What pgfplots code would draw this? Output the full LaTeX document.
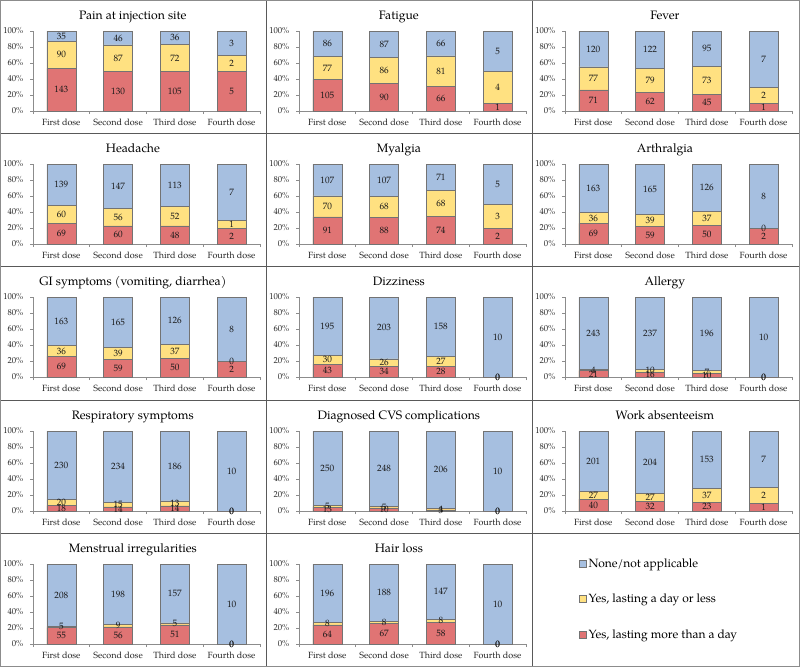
\documentclass[border=0pt]{standalone}
\usepackage{pgfplots}
\usepackage{pgfplotstable}
\pgfplotsset{compat=1.18}
\usepackage{fontspec}
\setmainfont{TeX Gyre Pagella}

\definecolor{bluec}{HTML}{A6BFE0}
\definecolor{yellowc}{HTML}{FFE181}
\definecolor{redc}{HTML}{E07474}

% columns: x a(red: more than a day) b(yellow: a day or less) c(blue: none)
\pgfplotstableread{
x a b c
1 143 90 35
2 130 87 46
3 105 72 36
4 5 2 3
}\tPain
\pgfplotstableread{
x a b c
1 105 77 86
2 90 86 87
3 66 81 66
4 1 4 5
}\tFatigue
\pgfplotstableread{
x a b c
1 71 77 120
2 62 79 122
3 45 73 95
4 1 2 7
}\tFever
\pgfplotstableread{
x a b c
1 69 60 139
2 60 56 147
3 48 52 113
4 2 1 7
}\tHeadache
\pgfplotstableread{
x a b c
1 91 70 107
2 88 68 107
3 74 68 71
4 2 3 5
}\tMyalgia
\pgfplotstableread{
x a b c
1 69 36 163
2 59 39 165
3 50 37 126
4 2 0 8
}\tArthralgia
\pgfplotstableread{
x a b c
1 69 36 163
2 59 39 165
3 50 37 126
4 2 0 8
}\tGI
\pgfplotstableread{
x a b c
1 43 30 195
2 34 26 203
3 28 27 158
4 0 0 10
}\tDizziness
\pgfplotstableread{
x a b c
1 21 4 243
2 16 10 237
3 10 7 196
4 0 0 10
}\tAllergy
\pgfplotstableread{
x a b c
1 18 20 230
2 14 15 234
3 14 13 186
4 0 0 10
}\tResp
\pgfplotstableread{
x a b c
1 13 5 250
2 10 5 248
3 3 4 206
4 0 0 10
}\tCVS
\pgfplotstableread{
x a b c
1 40 27 201
2 32 27 204
3 23 37 153
4 1 2 7
}\tWork
\pgfplotstableread{
x a b c
1 55 5 208
2 56 9 198
3 51 5 157
4 0 0 10
}\tMens
\pgfplotstableread{
x a b c
1 64 8 196
2 67 8 188
3 58 8 147
4 0 0 10
}\tHair

\pgfplotsset{
  panel/.style={
    scale only axis, width=227pt, height=80pt, anchor=north west,
    xmin=0.5, xmax=4.5, ymin=0, ymax=100,
    axis lines*=left,
    axis line style={draw=black!45, line width=0.6pt},
    xtick={0.5,1.5,2.5,3.5,4.5},
    xticklabels={First dose,Second dose,Third dose,Fourth dose,{}},
    x tick label style={xshift=28.375pt, yshift=-1.5pt, font=\fontsize{9}{10}\selectfont, text=black!85},
    ytick={0,20,40,60,80,100},
    yticklabels={0\%,20\%,40\%,60\%,80\%,100\%},
    y tick label style={xshift=-3pt, font=\fontsize{8.6}{10}\selectfont, text=black!85},
    tick align=outside, major tick length=3pt,
    tick style={draw=black!45, line width=0.6pt},
    clip=false,
    every axis title/.style={at={(0.44,1)}, anchor=base, yshift=11.5pt, font=\fontsize{12.2}{14}\selectfont},
  },
  mybar/.style={ybar, bar width=29pt, bar shift=0pt, draw=black!55, line width=0.5pt},
  lbl/.style={draw=none, mark=none, nodes near coords, point meta=explicit symbolic,
    every node near coord/.append style={anchor=center, font=\fontsize{9.2}{10}\selectfont, text=black!90, inner sep=0pt}},
}

\newcommand{\panel}[4]{%
\begin{axis}[panel, at={({#1pt+33pt},{-#2pt-31pt})}, title={#3}]
\addplot[mybar, fill=bluec] table[x=x, y expr=100] {#4};
\addplot[mybar, fill=yellowc] table[x=x, y expr=100*(\thisrow{a}+\thisrow{b})/(\thisrow{a}+\thisrow{b}+\thisrow{c})] {#4};
\addplot[mybar, fill=redc] table[x=x, y expr=100*\thisrow{a}/(\thisrow{a}+\thisrow{b}+\thisrow{c})] {#4};
\addplot[lbl] table[x=x, y expr=50*\thisrow{a}/(\thisrow{a}+\thisrow{b}+\thisrow{c}), meta=a] {#4};
\addplot[lbl] table[x=x, y expr=100*(\thisrow{a}+0.5*\thisrow{b})/(\thisrow{a}+\thisrow{b}+\thisrow{c}), meta=b] {#4};
\addplot[lbl] table[x=x, y expr=100*(\thisrow{a}+\thisrow{b}+0.5*\thisrow{c})/(\thisrow{a}+\thisrow{b}+\thisrow{c}), meta=c] {#4};
\end{axis}}

\begin{document}
\begin{tikzpicture}
\useasboundingbox (0pt,0pt) rectangle (800pt,-667pt);
\fill[white] (0pt,0pt) rectangle (800pt,-667pt);

\panel{0}{0}{Pain at injection site}{\tPain}
\panel{266}{0}{Fatigue}{\tFatigue}
\panel{532}{0}{Fever}{\tFever}
\panel{0}{133}{Headache}{\tHeadache}
\panel{266}{133}{Myalgia}{\tMyalgia}
\panel{532}{133}{Arthralgia}{\tArthralgia}
\panel{0}{266}{GI symptoms (vomiting, diarrhea)}{\tGI}
\panel{266}{266}{Dizziness}{\tDizziness}
\panel{532}{266}{Allergy}{\tAllergy}
\panel{0}{400}{Respiratory symptoms}{\tResp}
\panel{266}{400}{Diagnosed CVS complications}{\tCVS}
\panel{532}{400}{Work absenteeism}{\tWork}
\panel{0}{533}{Menstrual irregularities}{\tMens}
\panel{266}{533}{Hair loss}{\tHair}

\begin{axis}[at={(532pt,-667pt)}, anchor=south west, scale only axis, width=268pt, height=134pt,
  hide axis, xmin=0, xmax=1, ymin=0, ymax=1,
  legend style={at={(0.164,0.842)}, anchor=north west, draw=none, fill=none,
    font=\fontsize{12}{14}\selectfont, row sep=21.5pt},
  legend cell align=left,
  legend image code/.code={\draw[#1, draw=black!55, line width=0.5pt] (0pt,-3.5pt) rectangle (7pt,3.5pt);}]
\addlegendimage{fill=bluec}\addlegendentry{None/not applicable}
\addlegendimage{fill=yellowc}\addlegendentry{Yes, lasting a day or less}
\addlegendimage{fill=redc}\addlegendentry{Yes, lasting more than a day}
\end{axis}

\draw[black!65, line width=0.8pt] (266pt,0pt) -- (266pt,-667pt);
\draw[black!65, line width=0.8pt] (532pt,0pt) -- (532pt,-667pt);
\foreach \yy in {133,266,400,533} {\draw[black!65, line width=0.8pt] (0pt,-\yy pt) -- (800pt,-\yy pt);}
\draw[black!45, line width=1pt] (0.5pt,-0.5pt) rectangle (799.5pt,-666.5pt);
\end{tikzpicture}
\end{document}
